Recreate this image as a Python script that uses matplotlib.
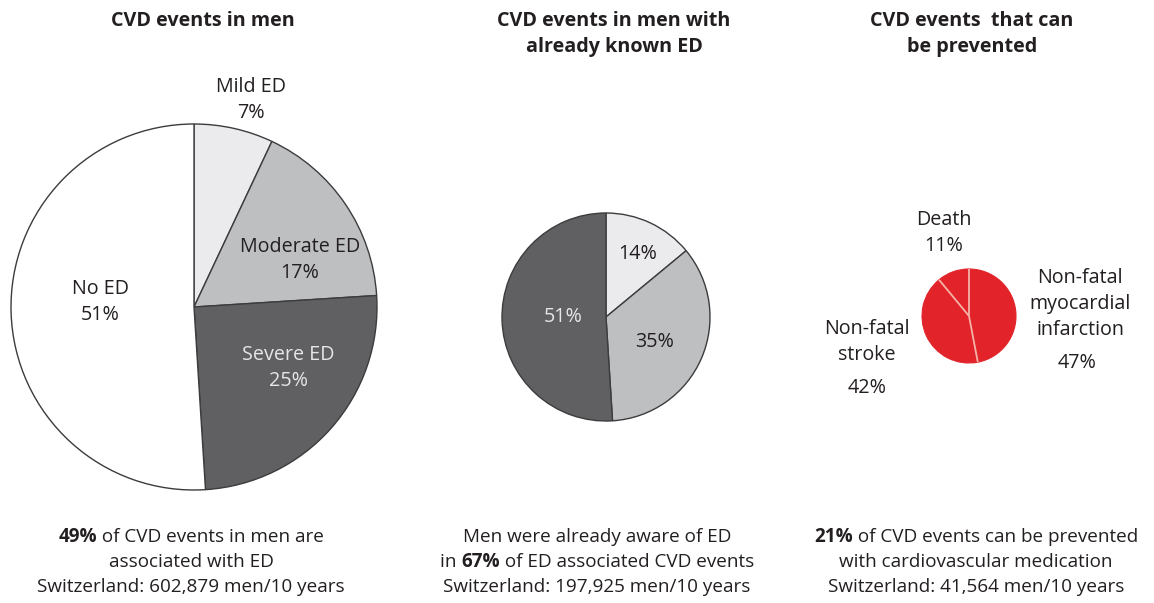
import matplotlib
matplotlib.use("Agg")
import matplotlib.pyplot as plt
import numpy as np

W, H = 1154, 603

# Share of CVD events in men by ED severity
ed_labels = ["Mild ED", "Moderate ED", "Severe ED", "No ED"]
ed_values = [7, 17, 25, 51]

# ED associated events, split by prior awareness
known_values = [14, 35, 51]

# Preventable events by outcome
prev_labels = ["Non-fatal\nmyocardial\ninfarction", "Non-fatal\nstroke", "Death"]
prev_values = [47, 42, 11]

titles = ["CVD events in men",
          "CVD events in men with\nalready known ED",
          "CVD events  that can\nbe prevented"]

# caption lines as (text, bold) runs
captions = [
    [[("49%", True), (" of CVD events in men are", False)],
     [("associated with ED", False)],
     [("Switzerland: 602,879 men/10 years", False)]],
    [[("Men were already aware of ED", False)],
     [("in ", False), ("67%", True), (" of ED associated CVD events", False)],
     [("Switzerland: 197,925 men/10 years", False)]],
    [[("21%", True), (" of CVD events can be prevented", False)],
     [("with cardiovascular medication", False)],
     [("Switzerland: 41,564 men/10 years", False)]],
]

plt.rcParams["font.family"] = ["Open Sans", "DejaVu Sans"]
TXT = "#231f20"
GREYS = ["#ebebed", "#bebfc1", "#606062", "#ffffff"]
RED = "#e2232a"
LBL = 14.2
CAP = 13.6

fig = plt.figure(figsize=(W / 100, H / 100), dpi=100)
ax = fig.add_axes([0, 0, 1, 1])


def put(x, y, s, size=LBL, **kw):
    # place text using top-left pixel coordinates
    kw.setdefault("color", TXT)
    ax.text(x, H - y, s, ha="center", va="center", linespacing=1.4,
            fontsize=size, **kw)


def pct(v):
    return f"{v}%"


# left pie
ax.pie(ed_values, colors=GREYS, startangle=90, counterclock=False,
       center=(194, H - 307), radius=183, frame=True,
       wedgeprops=dict(edgecolor="#3c3c3e", linewidth=1.0))

# middle pie
ax.pie(known_values, colors=GREYS[:3], startangle=90, counterclock=False,
       center=(606, H - 317), radius=104, frame=True,
       wedgeprops=dict(edgecolor="#3c3c3e", linewidth=1.0))

# right pie, pale divider lines drawn separately so the rim stays red
cx, cy, r = 969, H - 316, 47
wedges, _ = ax.pie(prev_values, colors=[RED] * 3, startangle=90, counterclock=False,
                   center=(cx, cy), radius=r, frame=True,
                   wedgeprops=dict(edgecolor=RED, linewidth=0.8))
for w in wedges:
    a = np.deg2rad(w.theta1)
    ax.plot([cx, cx + r * np.cos(a)], [cy, cy + r * np.sin(a)],
            color="#f5b3a8", lw=1.3, solid_capstyle="butt")

ax.set_xlim(0, W)
ax.set_ylim(0, H)
ax.set_aspect("auto")
ax.axis("off")

# titles
put(203, 21, titles[0], fontweight="bold")
put(614, 34, titles[1], fontweight="bold")
put(972, 34, titles[2], fontweight="bold")

# left pie labels
put(251, 100, f"{ed_labels[0]}\n{pct(ed_values[0])}")
put(300, 260, f"{ed_labels[1]}\n{pct(ed_values[1])}")
put(288, 368, f"{ed_labels[2]}\n{pct(ed_values[2])}", color="#e6e6e8")
put(100, 302, f"{ed_labels[3]}\n{pct(ed_values[3])}")

# middle pie labels
put(638, 254, pct(known_values[0]))
put(655, 342, pct(known_values[1]))
put(563, 317, pct(known_values[2]), color="#e6e6e8")

# right pie labels
put(944, 233, f"{prev_labels[2]}\n{pct(prev_values[2])}")
put(1080, 304, prev_labels[0])
put(1077, 363, pct(prev_values[0]))
put(867, 342, prev_labels[1])
put(867, 388, pct(prev_values[1]))

# captions, bold runs measured so each line stays centred
cap_x = [191, 597, 976]
cap_y = [537, 562, 587]
renderer = fig.canvas.get_renderer()
for x, lines in zip(cap_x, captions):
    for runs, y in zip(lines, cap_y):
        parts = []
        for s, bold in runs:
            t = ax.text(0, H - y, s, fontsize=CAP, color=TXT, va="center",
                        fontweight="bold" if bold else "normal")
            parts.append(t)
        widths = [t.get_window_extent(renderer).width for t in parts]
        x0 = x - sum(widths) / 2
        for t, w in zip(parts, widths):
            t.set_x(x0)
            x0 += w

fig.savefig("out.png", dpi=100)
